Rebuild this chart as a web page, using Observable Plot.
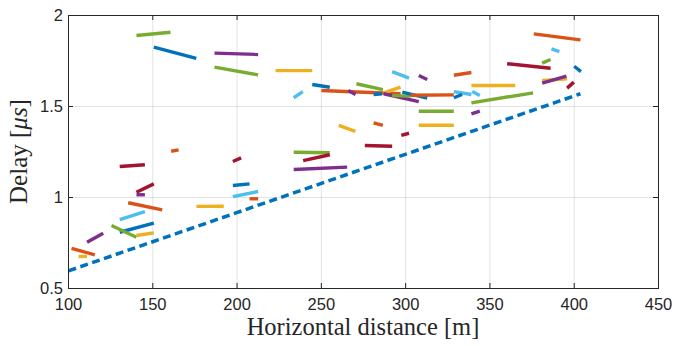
<!DOCTYPE html>
<html>
<head>
<meta charset="utf-8">
<script src="https://cdn.jsdelivr.net/npm/d3@7"></script>
<script src="https://cdn.jsdelivr.net/npm/@observablehq/plot@0.6"></script>
<style>
  html, body { margin: 0; padding: 0; background: #fff; }
  #chart { width: 689px; height: 346px; }
</style>
</head>
<body>
<div id="chart"></div>
<script>
// ---- data ----
const xTicks = [100, 150, 200, 250, 300, 350, 400, 450];
const yTicks = [0.5, 1, 1.5, 2];
const yTickLabels = ["0.5", "1", "1.5", "2"];
const seriesNames = ["B", "O", "Y", "P", "G", "L", "R"];
const seriesColors = ["#0072BD", "#D95319", "#EDB120", "#7E2F8E", "#77AC30", "#4DBEEE", "#A2142F"];

const segSeries = ["G","B","P","G","Y","L","B","O","P","G","B","Y","P","G","B","O","L","P","O","L","L","B","G","Y","Y","G","P","O","L","G","R","B","Y","P","R","Y","O","R","R","G","R","P","R","O","R","P","O","L","B","G","Y","P","O","Y","R","B","L","O","Y"];
const segX1 = [140.3,150.6,186.6,186.6,222.8,233.6,244.6,250,266,270.8,281,287,287,292,298,302.9,292,307.8,328.6,328.6,339.5,328.6,307.8,307.8,339,339,339,376,386.5,381,360.2,400,381,381,395.8,260.3,281,275.8,297.4,233.6,239.2,233.6,130.4,160.9,140.3,140.3,135.4,130.4,130.4,125.5,140.3,111,101.8,106,197.5,197.5,197.5,207.4,175.9];
const segY1 = [1.890,1.826,1.793,1.716,1.697,1.548,1.621,1.588,1.588,1.625,1.566,1.575,1.570,1.560,1.579,1.562,1.692,1.670,1.672,1.582,1.582,1.548,1.474,1.397,1.615,1.520,1.460,1.899,1.817,1.738,1.735,1.721,1.643,1.628,1.601,1.396,1.410,1.286,1.341,1.249,1.203,1.154,1.170,1.254,1.029,1.015,0.971,0.879,0.809,0.846,0.791,0.754,0.721,0.676,1.198,1.066,1.005,0.993,0.951];
const segX2 = [160.5,175.8,212.5,212.5,244.6,239,255,297,270.3,286.5,286,297,307.8,303,312.8,328.6,302,312.8,339,339,344,333.5,328.6,328.6,365,375.6,344,403.7,391.2,386,386,404,395.8,395.4,399.8,270.2,286.5,292,302,255,255,265.3,145.3,165.3,150.6,145.3,155.6,145.3,150.6,140.3,150.6,120.6,115.6,111,202.4,207.4,212.5,212.5,192.1];
const segY2 = [1.908,1.765,1.786,1.674,1.697,1.582,1.606,1.570,1.566,1.593,1.570,1.606,1.527,1.557,1.546,1.564,1.656,1.648,1.687,1.566,1.560,1.566,1.474,1.397,1.615,1.575,1.474,1.866,1.802,1.758,1.710,1.692,1.652,1.667,1.634,1.363,1.396,1.282,1.353,1.246,1.235,1.167,1.180,1.262,1.075,1.015,0.932,0.923,0.859,0.782,0.806,0.804,0.685,0.676,1.218,1.075,1.033,0.993,0.952];

const boundX = [100, 403.7];
const boundY = [0.597, 1.570];

// ---- build tables ----
const segments = segSeries.map((s, i) => ({s, x1: segX1[i], y1: segY1[i], x2: segX2[i], y2: segY2[i]}));
const bound = boundX.map((x, i) => ({x, y: boundY[i]}));

const W = 689, H = 346;
const axisColor = "#262626";
const tickFont = "Liberation Sans, Arial, sans-serif";

const plot = Plot.plot({
  width: W,
  height: H,
  marginLeft: 68,
  marginRight: 31,
  marginTop: 15,
  marginBottom: 58,
  style: {background: "#fff", fontFamily: tickFont, fontSize: "16.5px", color: axisColor, overflow: "visible"},
  x: {domain: [100, 450], axis: null},
  y: {domain: [0.5, 2], axis: null},
  color: {domain: seriesNames, range: seriesColors},
  marks: [
    Plot.gridX(xTicks, {stroke: axisColor, strokeOpacity: 0.13, strokeWidth: 1}),
    Plot.gridY(yTicks, {stroke: axisColor, strokeOpacity: 0.13, strokeWidth: 1}),
    Plot.link(segments, {x1: "x1", y1: "y1", x2: "x2", y2: "y2", stroke: "s", strokeWidth: 3.4, strokeLinecap: "butt"}),
    Plot.line(bound, {x: "x", y: "y", stroke: seriesColors[0], strokeWidth: 3.5, strokeDasharray: "8,4.5", strokeLinecap: "butt"}),
    Plot.frame({stroke: axisColor, strokeWidth: 1}),
    // inward ticks, all four sides
    Plot.ruleX(xTicks, {x: d => d, insetTop: 268, stroke: axisColor}),
    Plot.ruleX(xTicks, {x: d => d, insetBottom: 268, stroke: axisColor}),
    Plot.ruleY(yTicks, {y: d => d, insetRight: 585, stroke: axisColor}),
    Plot.ruleY(yTicks, {y: d => d, insetLeft: 585, stroke: axisColor}),
    // tick labels
    Plot.text(xTicks, {x: d => d, frameAnchor: "bottom", lineAnchor: "top", dy: 9.5, text: d => String(d),
      fill: axisColor, fontSize: 16.5, fontFamily: tickFont}),
    Plot.text(yTicks, {y: d => d, frameAnchor: "left", textAnchor: "end", lineAnchor: "middle", dx: -5.5,
      text: d => yTickLabels[yTicks.indexOf(d)], fill: axisColor, fontSize: 16.5, fontFamily: tickFont})
  ]
});

document.getElementById("chart").appendChild(plot);

// axis titles (serif, like MATLAB's Times)
const svg = d3.select(plot);
const serif = "Liberation Serif, Times New Roman, serif";
svg.append("text")
  .attr("x", 68 + (W - 68 - 31) / 2)
  .attr("y", 335)
  .attr("text-anchor", "middle")
  .attr("font-family", serif)
  .attr("font-size", 24.5)
  .attr("fill", axisColor)
  .text("Horizontal distance [m]");

const yl = svg.append("text")
  .attr("transform", `translate(27,${15 + (288 - 15) / 2}) rotate(-90)`)
  .attr("text-anchor", "middle")
  .attr("font-family", serif)
  .attr("font-size", 25)
  .attr("fill", axisColor);
yl.append("tspan").text("Delay [");
yl.append("tspan").attr("font-style", "italic").text("\u03BCs");
yl.append("tspan").text("]");
</script>
</body>
</html>
